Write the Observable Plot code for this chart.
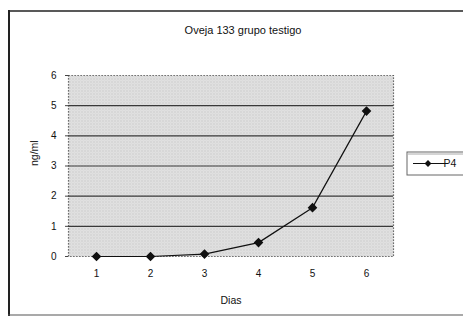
<!DOCTYPE html>
<html>
<head>
<meta charset="utf-8">
<script src="https://cdn.jsdelivr.net/npm/d3@7"></script>
<script src="https://cdn.jsdelivr.net/npm/@observablehq/plot@0.6"></script>
<style>
  html, body { margin: 0; padding: 0; background: #fff; }
  #chart svg { display: block; }
</style>
</head>
<body>
<div id="chart"></div>
<script>
// Progesterone (P4) in ewe 133, control group
const dias = [1, 2, 3, 4, 5, 6];
const p4 = [0, 0, 0.08, 0.46, 1.62, 4.82];
const yTicks = [0, 1, 2, 3, 4, 5, 6];
const gridValues = [1, 2, 3, 4, 5];
const seriesName = "P4";
const title = "Oveja 133 grupo testigo";
const xLabel = "Dias";
const yLabel = "ng/ml";

const data = dias.map((d, i) => ({dia: d, valor: p4[i]}));
const font = "'Liberation Sans', Arial, sans-serif";

const chart = Plot.plot({
  width: 463,
  height: 324,
  marginLeft: 68,
  marginRight: 70,
  marginTop: 75,
  marginBottom: 68,
  style: {fontFamily: font, fontSize: "10px", color: "#111", background: "#fff"},
  x: {type: "point", domain: dias, padding: 0.5},
  y: {domain: [0, 6]},
  marks: [
    Plot.frame({fill: "url(#stipple)", stroke: "none"}),
    Plot.ruleY(gridValues, {stroke: "#3a3a3a", strokeWidth: 1.2}),
    Plot.frame({stroke: "#444", strokeDasharray: "1.2,1.8", strokeWidth: 1.2}),
    Plot.axisX({ticks: dias, tickSize: 0, tickPadding: 13, label: null, fill: "#111", fontSize: 10}),
    Plot.axisY({ticks: yTicks, tickFormat: d => String(d), tickSize: 3, tickPadding: 9, label: null, fill: "#111", fontSize: 10, stroke: "#444"}),
    Plot.line(data, {x: "dia", y: "valor", stroke: "#111", strokeWidth: 1.2}),
    Plot.dot(data, {x: "dia", y: "valor", symbol: "diamond2", r: 3.4, fill: "#111", stroke: "#111"}),
    Plot.text([title], {frameAnchor: "top", dy: -45, dx: 12, lineAnchor: "middle", fontSize: 11, fill: "#111"}),
    Plot.text([xLabel], {frameAnchor: "bottom", dy: 44, lineAnchor: "middle", fontSize: 10.5, fill: "#111"}),
    Plot.text([yLabel], {frameAnchor: "left", dx: -34, rotate: -90, lineAnchor: "middle", fontSize: 10.5, fill: "#111"})
  ]
});

// Halftone-style fill for the plot area
const svg = d3.select(chart);
const defs = svg.insert("defs", ":first-child");
const pat = defs.append("pattern")
  .attr("id", "stipple")
  .attr("patternUnits", "userSpaceOnUse")
  .attr("width", 3).attr("height", 3);
pat.append("rect").attr("width", 3).attr("height", 3).attr("fill", "#e4e4e4");
pat.append("rect").attr("x", 0).attr("y", 0).attr("width", 1).attr("height", 1).attr("fill", "#b8b8b8");
pat.append("rect").attr("x", 1.5).attr("y", 1.5).attr("width", 1).attr("height", 1).attr("fill", "#c4c4c4");

// Chart-area border
const border = svg.append("g").attr("fill", "none").attr("stroke", "#222");
border.append("line").attr("x1", 9).attr("x2", 9).attr("y1", 10).attr("y2", 316).attr("stroke-width", 2);
border.append("line").attr("x1", 8).attr("x2", 463).attr("y1", 11).attr("y2", 11).attr("stroke-width", 1.5);
border.append("line").attr("x1", 8).attr("x2", 463).attr("y1", 315).attr("y2", 315).attr("stroke-width", 1.2).attr("stroke", "#555");

// Legend
const lg = svg.append("g");
lg.append("rect").attr("x", 407).attr("y", 152).attr("width", 70).attr("height", 23)
  .attr("fill", "#fff").attr("stroke", "#666").attr("stroke-width", 1);
lg.append("line").attr("x1", 408).attr("x2", 477).attr("y1", 154).attr("y2", 154).attr("stroke", "#aaa");
lg.append("line").attr("x1", 413).attr("x2", 448).attr("y1", 163.5).attr("y2", 163.5).attr("stroke", "#111").attr("stroke-width", 1.2);
lg.append("path").attr("d", d3.symbol(d3.symbolDiamond2, 30)()).attr("transform", "translate(428,163.5)").attr("fill", "#111");
lg.append("text").attr("x", 450).attr("y", 163.5).attr("dy", "0.35em")
  .attr("font-size", 10.5).attr("font-family", font).attr("fill", "#111").text(seriesName);

document.getElementById("chart").appendChild(chart);
</script>
</body>
</html>
